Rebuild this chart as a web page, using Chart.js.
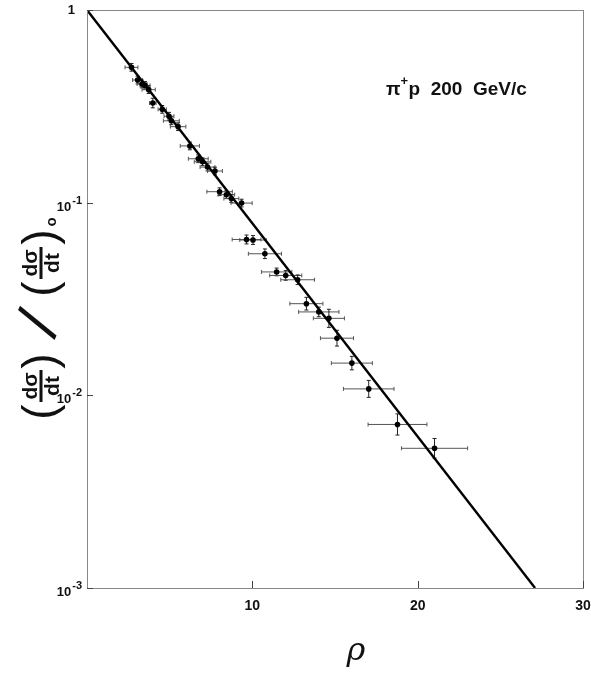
<!DOCTYPE html>
<html>
<head>
<meta charset="utf-8">
<script src="https://cdn.jsdelivr.net/npm/chart.js@4.4.1/dist/chart.umd.min.js"></script>
<style>
  html, body { margin: 0; padding: 0; background: #fff; }
  #wrap { width: 591px; height: 673px; }
</style>
</head>
<body>
<div id="wrap"><canvas id="rhoCanvas" width="591" height="673"></canvas></div>
<script>
// pi+ p at 200 GeV/c, normalised dsigma/dt against rho
var rho = [2.69, 3.06, 3.33, 3.51, 3.73, 3.98, 4.55, 4.96, 5.10, 5.51,
           6.22, 6.73, 6.99, 7.29, 7.74, 8.02, 8.43, 8.73, 9.35, 9.65,
           10.04, 10.76, 11.47, 12.02, 12.74, 13.27, 14.02, 14.63, 15.12, 16.02,
           17.04, 18.78, 21.02];
var ratio = [0.504, 0.433, 0.413, 0.406, 0.386, 0.329, 0.305, 0.281, 0.266, 0.248,
             0.197, 0.169, 0.163, 0.153, 0.146, 0.114, 0.110, 0.105, 0.0995, 0.0644,
             0.0640, 0.0543, 0.0437, 0.0419, 0.0398, 0.0299, 0.0271, 0.0251, 0.0198, 0.0147,
             0.0108, 0.00706, 0.00531];
// horizontal half-widths (rho units)
var rhoErr = [0.39, 0.30, 0.30, 0.30, 0.40, 0.20, 0.25, 0.30, 0.48, 0.47,
              0.58, 0.60, 0.50, 0.45, 0.45, 0.77, 0.50, 0.45, 0.64, 0.87,
              0.80, 1.00, 0.92, 0.97, 1.02, 1.00, 1.22, 0.94, 1.00, 1.24,
              1.53, 1.78, 2.00];
// vertical half-heights in decades
var ratioErrDec = [0.020, 0.020, 0.020, 0.020, 0.020, 0.025, 0.020, 0.020, 0.020, 0.020,
                   0.020, 0.020, 0.020, 0.020, 0.020, 0.020, 0.020, 0.020, 0.020, 0.023,
                   0.023, 0.025, 0.020, 0.025, 0.025, 0.033, 0.025, 0.047, 0.041, 0.035,
                   0.044, 0.055, 0.051];
// fitted exponential
var fitRho = [0, 27.1];
var fitRatio = [1, 0.001];

var xTicks = [10, 20, 30];
var xTickLabels = ["10", "20", "30"];
var yTicks = [1, 0.1, 0.01, 0.001];
var yTickLabels = [["1", ""], ["10", "-1"], ["10", "-2"], ["10", "-3"]];

var points = rho.map(function (r, i) { return { x: r, y: ratio[i] }; });
var fitLine = fitRho.map(function (r, i) { return { x: r, y: fitRatio[i] }; });

var labelFont = "'Liberation Sans', sans-serif";

var errorBars = {
    id: 'errorBars',
    beforeDatasetsDraw: function (chart) {
        var ctx = chart.ctx, xs = chart.scales.x, ys = chart.scales.y;
        ctx.save();
        ctx.lineWidth = 1;
        for (var i = 0; i < rho.length; i++) {
            var px = xs.getPixelForValue(rho[i]);
            var py = ys.getPixelForValue(ratio[i]);
            var x0 = xs.getPixelForValue(rho[i] - rhoErr[i]);
            var x1 = xs.getPixelForValue(rho[i] + rhoErr[i]);
            var f = Math.pow(10, ratioErrDec[i]);
            var y0 = ys.getPixelForValue(ratio[i] * f);
            var y1 = ys.getPixelForValue(ratio[i] / f);
            ctx.strokeStyle = '#555';
            ctx.beginPath();
            ctx.moveTo(x0, py); ctx.lineTo(x1, py);
            ctx.moveTo(x0, py - 2); ctx.lineTo(x0, py + 2);
            ctx.moveTo(x1, py - 2); ctx.lineTo(x1, py + 2);
            ctx.stroke();
            ctx.strokeStyle = '#222';
            ctx.beginPath();
            ctx.moveTo(px, y0); ctx.lineTo(px, y1);
            ctx.moveTo(px - 2, y0); ctx.lineTo(px + 2, y0);
            ctx.moveTo(px - 2, y1); ctx.lineTo(px + 2, y1);
            ctx.stroke();
        }
        ctx.restore();
    }
};

// frame, inward ticks, tick labels and the text around the plot
var frameAndText = {
    id: 'frameAndText',
    afterDraw: function (chart) {
        var ctx = chart.ctx, a = chart.chartArea;
        var xs = chart.scales.x, ys = chart.scales.y;
        ctx.save();
        ctx.strokeStyle = '#888';
        ctx.lineWidth = 1;
        ctx.strokeRect(Math.round(a.left) + 0.5, Math.round(a.top) + 0.5,
                       Math.round(a.right - a.left), Math.round(a.bottom - a.top));

        ctx.strokeStyle = '#444';
        ctx.beginPath();
        xTicks.forEach(function (v) {
            var px = Math.round(xs.getPixelForValue(v)) + 0.5;
            ctx.moveTo(px, a.bottom); ctx.lineTo(px, a.bottom - 7);
        });
        yTicks.forEach(function (v) {
            var py = Math.round(ys.getPixelForValue(v)) + 0.5;
            ctx.moveTo(a.left, py); ctx.lineTo(a.left + 6, py);
        });
        ctx.stroke();

        ctx.fillStyle = '#111';
        ctx.textAlign = 'center';
        ctx.textBaseline = 'middle';
        ctx.font = "bold 14px " + labelFont;
        xTicks.forEach(function (v, i) {
            ctx.fillText(xTickLabels[i], xs.getPixelForValue(v), a.bottom + 18);
        });

        yTicks.forEach(function (v, i) {
            var py = ys.getPixelForValue(v);
            var base = yTickLabels[i][0], sup = yTickLabels[i][1];
            ctx.textBaseline = 'alphabetic';
            if (sup === "") {
                ctx.textAlign = 'right';
                ctx.font = "bold 13px " + labelFont;
                ctx.fillText(base, a.left - 12, py + 4);
                return;
            }
            ctx.font = "bold 11px " + labelFont;
            var supW = ctx.measureText(sup).width;
            ctx.textAlign = 'right';
            ctx.fillText(sup, a.left - 5, py + 1);
            ctx.font = "bold 13px " + labelFont;
            ctx.fillText(base, a.left - 6 - supW, py + 8);
        });

        // reaction label
        ctx.textAlign = 'left';
        ctx.textBaseline = 'alphabetic';
        ctx.font = "bold 19px " + labelFont;
        var tx = 386, ty = 95;
        ctx.fillText("\u03c0", tx, ty);
        var w = ctx.measureText("\u03c0").width;
        ctx.font = "bold 13px " + labelFont;
        ctx.fillText("+", tx + w, ty - 10);
        ctx.font = "bold 19px " + labelFont;
        ctx.fillText("p  200  GeV/c", tx + w + 8, ty);

        // x axis title
        ctx.textAlign = 'center';
        ctx.font = "italic 32px 'DejaVu Serif', serif";
        ctx.fillText("\u03c1", 356, 660);

        // y axis title: (dσ/dt) / (dσ/dt)o, rotated
        ctx.translate(41, 311);
        ctx.rotate(-Math.PI / 2);
        ctx.textAlign = 'center';
        function frac(cx) {
            ctx.textBaseline = 'alphabetic';
            ctx.font = "bold 21px " + labelFont;
            ctx.fillText("d\u03c3", cx, -4);
            ctx.fillText("dt", cx, 18);
            ctx.fillRect(cx - 16, -1.5, 32, 3);
        }
        function paren(ch, cx) {
            ctx.textBaseline = 'middle';
            ctx.font = "46px " + labelFont;
            ctx.fillText(ch, cx, 1);
        }
        paren("(", -101);
        frac(-75);
        paren(")", -50);
        ctx.save();
        ctx.translate(-14, 1);
        ctx.rotate(0.42);
        ctx.textBaseline = 'middle';
        ctx.font = "62px " + labelFont;
        ctx.fillText("/", 0, 0);
        ctx.restore();
        paren("(", 22);
        frac(48);
        paren(")", 74);
        ctx.textBaseline = 'alphabetic';
        ctx.font = "bold 15px " + labelFont;
        ctx.fillText("o", 89, 15);
        ctx.restore();
    }
};

new Chart(document.getElementById('rhoCanvas'), {
    type: 'scatter',
    data: {
        datasets: [{
            type: 'line',
            data: fitLine,
            borderColor: '#000',
            borderWidth: 2.4,
            pointRadius: 0,
            fill: false
        }, {
            data: points,
            backgroundColor: '#000',
            borderWidth: 0,
            pointRadius: 2.8
        }]
    },
    options: {
        responsive: false,
        animation: false,
        devicePixelRatio: 1,
        layout: { padding: { top: 10, right: 8, left: 0, bottom: 0 } },
        plugins: { legend: { display: false }, tooltip: { enabled: false } },
        scales: {
            x: {
                type: 'linear', min: 0, max: 30,
                grid: { display: false }, border: { display: false },
                ticks: { display: false },
                afterFit: function (s) { s.height = 85; }
            },
            y: {
                type: 'logarithmic', min: 0.001, max: 1,
                grid: { display: false }, border: { display: false },
                ticks: { display: false },
                afterFit: function (s) { s.width = 87; }
            }
        }
    },
    plugins: [errorBars, frameAndText]
});
</script>
</body>
</html>
